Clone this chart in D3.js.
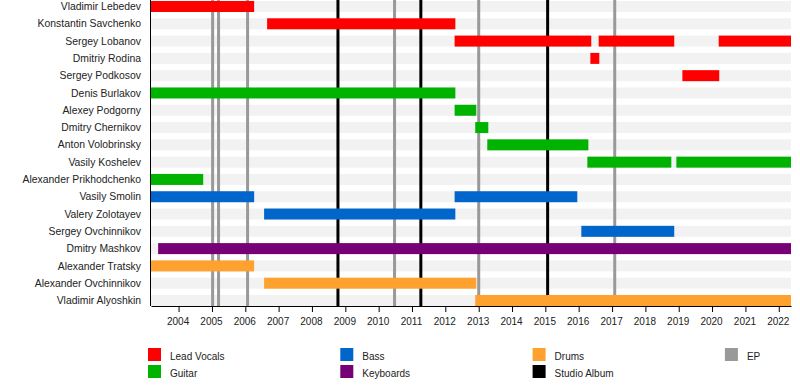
<!DOCTYPE html>
<html>
<head>
<meta charset="utf-8">
<script src="https://cdnjs.cloudflare.com/ajax/libs/d3/7.8.5/d3.min.js"></script>
<style>
  html, body { margin: 0; padding: 0; background: #fff; }
  svg { display: block; font-family: "Liberation Sans", Arial, sans-serif; }
</style>
</head>
<body>
<figure style="margin:0"></figure>
<script>
// ---------- data ----------
const members = [
  "Vladimir Lebedev", "Konstantin Savchenko", "Sergey Lobanov", "Dmitriy Rodina",
  "Sergey Podkosov", "Denis Burlakov", "Alexey Podgorny", "Dmitry Chernikov",
  "Anton Volobrinsky", "Vasily Koshelev", "Alexander Prikhodchenko", "Vasily Smolin",
  "Valery Zolotayev", "Sergey Ovchinnikov", "Dmitry Mashkov", "Alexander Tratsky",
  "Alexander Ovchinnikov", "Vladimir Alyoshkin"
]

const roles = ["Lead Vocals", "Guitar", "Bass", "Keyboards", "Drums"]

const timelineStart = "2003-03-05"
const timelineEnd = "2022-05-15"

// [member, role, from, till]
const stints = [
  ["Vladimir Lebedev", "Lead Vocals", timelineStart, "2006-04-08"],
  ["Konstantin Savchenko", "Lead Vocals", "2006-08-28", "2012-04-20"],
  ["Sergey Lobanov", "Lead Vocals", "2012-04-12", "2016-05-18"],
  ["Sergey Lobanov", "Lead Vocals", "2016-08-07", "2018-11-13"],
  ["Sergey Lobanov", "Lead Vocals", "2020-03-14", timelineEnd],
  ["Dmitriy Rodina", "Lead Vocals", "2016-05-08", "2016-08-14"],
  ["Sergey Podkosov", "Lead Vocals", "2019-02-10", "2020-03-20"],
  ["Denis Burlakov", "Guitar", timelineStart, "2012-04-20"],
  ["Alexey Podgorny", "Guitar", "2012-04-12", "2012-12-05"],
  ["Dmitry Chernikov", "Guitar", "2012-11-24", "2013-04-16"],
  ["Anton Volobrinsky", "Guitar", "2013-04-05", "2016-04-16"],
  ["Vasily Koshelev", "Guitar", "2016-04-05", "2018-10-12"],
  ["Vasily Koshelev", "Guitar", "2018-12-06", timelineEnd],
  ["Alexander Prikhodchenko", "Guitar", timelineStart, "2004-09-27"],
  ["Vasily Smolin", "Bass", timelineStart, "2006-04-08"],
  ["Vasily Smolin", "Bass", "2012-04-12", "2015-12-17"],
  ["Valery Zolotayev", "Bass", "2006-07-26", "2012-04-20"],
  ["Sergey Ovchinnikov", "Bass", "2016-01-30", "2018-11-13"],
  ["Dmitry Mashkov", "Keyboards", "2003-05-22", timelineEnd],
  ["Alexander Tratsky", "Drums", timelineStart, "2006-04-08"],
  ["Alexander Ovchinnikov", "Drums", "2006-07-26", "2012-12-05"],
  ["Vladimir Alyoshkin", "Drums", "2012-11-24", timelineEnd]
]

const epReleases = ["2005-01-08", "2005-03-14", "2006-01-26", "2010-06-24", "2013-01-01", "2017-01-30"]
const studioAlbums = ["2008-10-12", "2011-04-08", "2015-01-26"]

const tickYears = [2004, 2005, 2006, 2007, 2008, 2009, 2010, 2011, 2012, 2013,
  2014, 2015, 2016, 2017, 2018, 2019, 2020, 2021, 2022]

// ---------- setup ----------
const svgWidth = 800
const svgHeight = 386
const margin = { left: 151, right: 9, top: 1, bottom: 80 }
const plotBottom = svgHeight - margin.bottom // 306

const parse = d3.utcParse("%Y-%m-%d")

const svg = d3.select("figure")
  .append("svg")
  .attr("width", svgWidth)
  .attr("height", svgHeight)

const x = d3.scaleUtc()
  .domain([parse(timelineStart), parse(timelineEnd)])
  .range([margin.left, svgWidth - margin.right])

const y = d3.scaleBand()
  .domain(members)
  .range([margin.top, plotBottom])
  .paddingInner(0.364)
  .paddingOuter(0)

const color = d3.scaleOrdinal()
  .domain(roles)
  .range(["#ff0000", "#00b300", "#0066cc", "#770077", "#ffa12e"])

// ---------- background stripes ----------
svg.append("g")
  .selectAll("rect")
  .data(members)
  .join("rect")
  .attr("x", x.range()[0])
  .attr("y", d => y(d))
  .attr("width", x.range()[1] - x.range()[0])
  .attr("height", y.bandwidth())
  .attr("fill", "#f2f2f2")

// ---------- release lines ----------
svg.append("g")
  .selectAll("line")
  .data(epReleases)
  .join("line")
  .attr("x1", d => x(parse(d)))
  .attr("x2", d => x(parse(d)))
  .attr("y1", 0)
  .attr("y2", plotBottom)
  .attr("stroke", "#999")
  .attr("stroke-width", 3)

svg.append("g")
  .selectAll("line")
  .data(studioAlbums)
  .join("line")
  .attr("x1", d => x(parse(d)))
  .attr("x2", d => x(parse(d)))
  .attr("y1", 0)
  .attr("y2", plotBottom)
  .attr("stroke", "#000")
  .attr("stroke-width", 3)

// ---------- member bars ----------
svg.append("g")
  .selectAll("rect")
  .data(stints)
  .join("rect")
  .attr("x", d => x(parse(d[2])))
  .attr("y", d => y(d[0]))
  .attr("width", d => x(parse(d[3])) - x(parse(d[2])))
  .attr("height", y.bandwidth())
  .attr("fill", d => color(d[1]))

// ---------- axes ----------
const xAxis = svg.append("g")
  .attr("transform", `translate(0,${plotBottom})`)
  .call(d3.axisBottom(x)
    .tickValues(tickYears.map(yr => new Date(Date.UTC(yr, 0, 1))))
    .tickFormat(d3.utcFormat("%Y"))
    .tickSize(6)
    .tickSizeOuter(0))
xAxis.select(".domain").attr("stroke", "#000")
xAxis.selectAll(".tick line").attr("stroke", "#000")
xAxis.selectAll(".tick text")
  .attr("y", 12)
  .attr("x", -1)
  .attr("fill", "#222")
  .style("font-size", "10px")
  .style("font-family", "'Liberation Sans', Arial, sans-serif")

// left axis line
svg.append("line")
  .attr("x1", margin.left - 0.5)
  .attr("x2", margin.left - 0.5)
  .attr("y1", 0)
  .attr("y2", plotBottom)
  .attr("stroke", "#000")
  .attr("stroke-width", 1)

// member labels
svg.append("g")
  .selectAll("text")
  .data(members)
  .join("text")
  .attr("x", 141)
  .attr("y", d => y(d) + y.bandwidth() / 2)
  .attr("dy", "0.35em")
  .attr("text-anchor", "end")
  .style("font-size", "10.4px")
  .style("fill", "#222")
  .text(d => d)

// ---------- legend ----------
const legendItems = [
  ["Lead Vocals", color("Lead Vocals")], ["Guitar", color("Guitar")],
  ["Bass", color("Bass")], ["Keyboards", color("Keyboards")],
  ["Drums", color("Drums")], ["Studio Album", "#000"],
  ["EP", "#999"]
]

const legend = svg.append("g")
  .selectAll("g")
  .data(legendItems)
  .join("g")
  .attr("transform", (d, i) => `translate(${148 + Math.floor(i / 2) * 192.3},${348 + (i % 2) * 17})`)

legend.append("rect")
  .attr("width", 13)
  .attr("height", 13)
  .attr("fill", d => d[1])

legend.append("text")
  .attr("x", 22)
  .attr("y", 8)
  .attr("dy", "0.35em")
  .style("font-size", "10px")
  .style("fill", "#222")
  .text(d => d[0])
</script>
</body>
</html>
